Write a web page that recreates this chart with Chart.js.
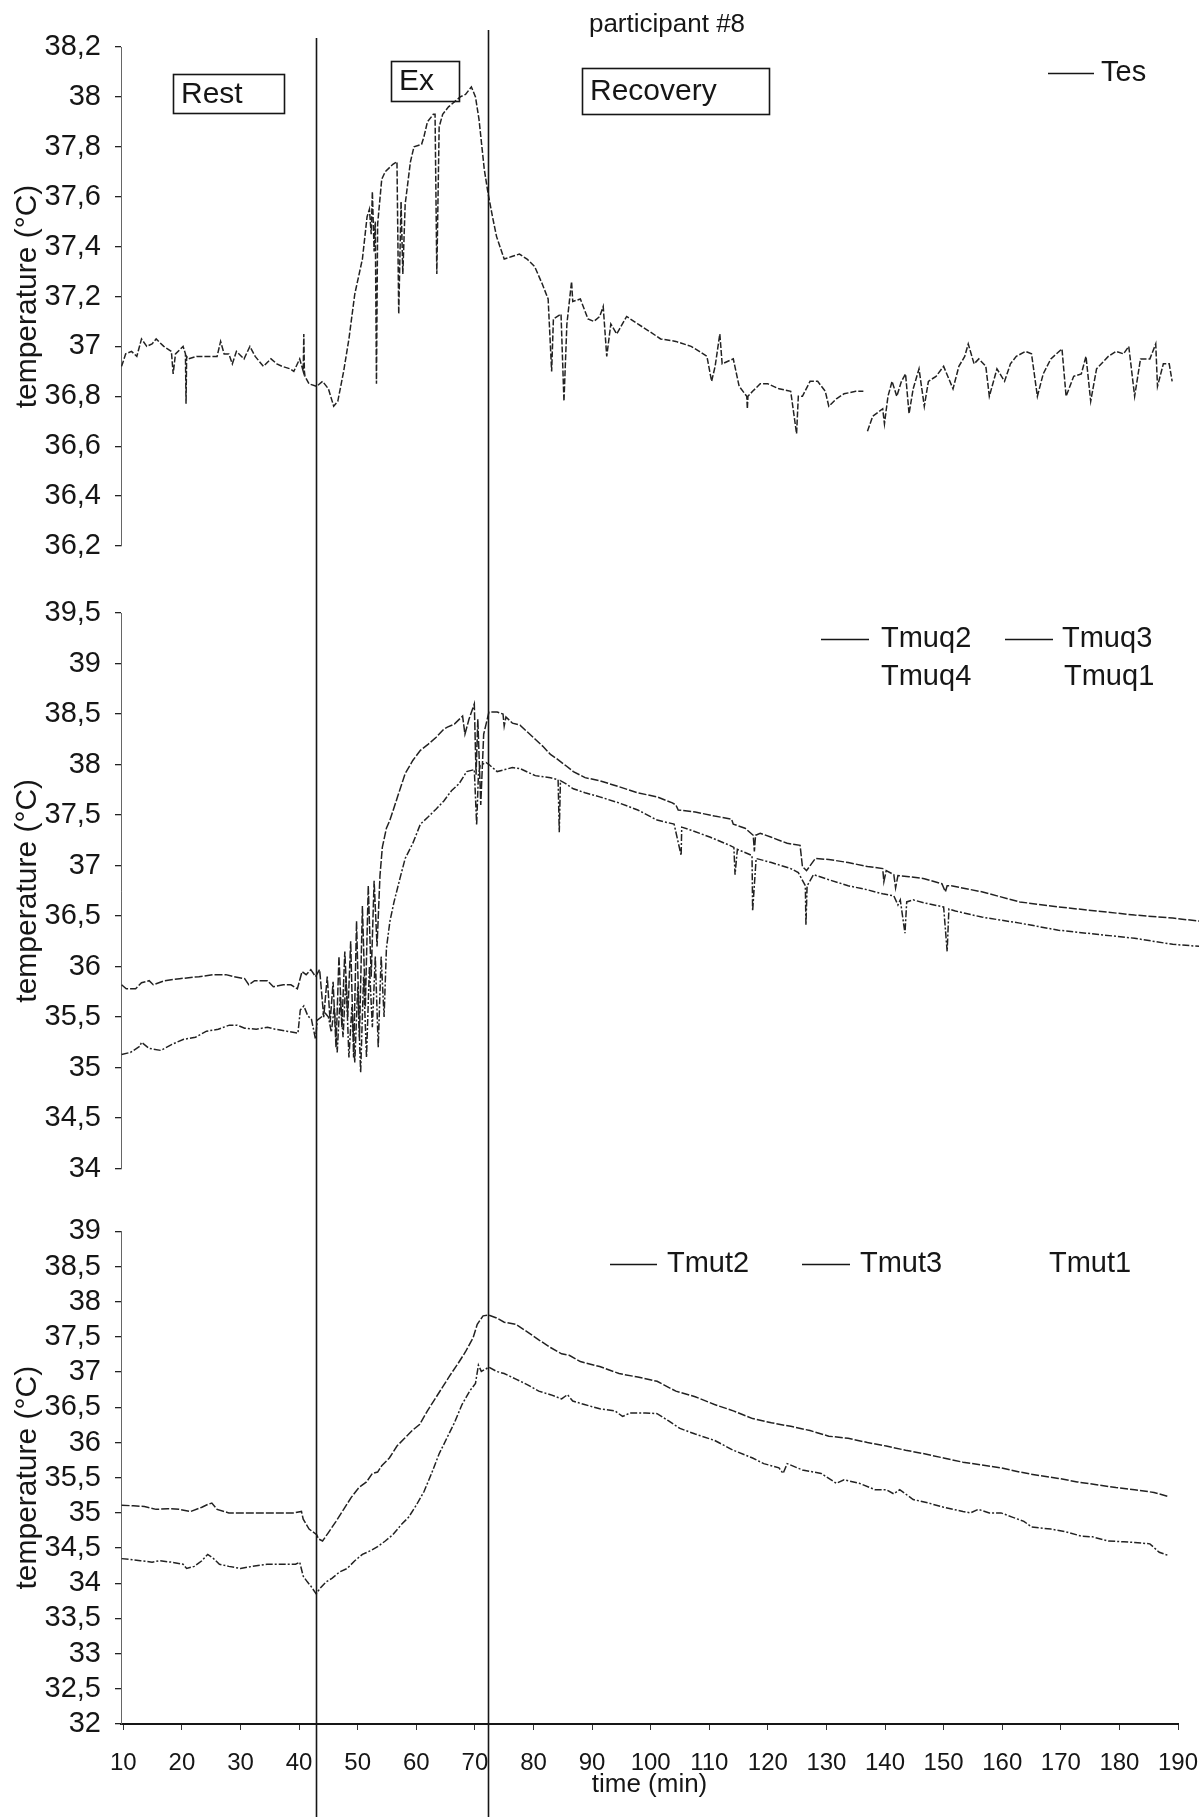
<!DOCTYPE html>
<html>
<head>
<meta charset="utf-8">
<script src="https://cdn.jsdelivr.net/npm/chart.js@4.4.1/dist/chart.umd.min.js"></script>
<style>
    html, body { margin: 0; padding: 0; background: #fff; }
    #wrap { position: relative; width: 1199px; height: 1817px; }
    .panel { position: absolute; left: 0; width: 1199px; }
</style>
</head>
<body>
<div id="wrap">
    <div class="panel" style="top:0;height:580px"><canvas id="tes"></canvas></div>
    <div class="panel" style="top:580px;height:620px"><canvas id="muq"></canvas></div>
    <div class="panel" style="top:1200px;height:617px"><canvas id="mut"></canvas></div>
</div>
<script>
const title = 'participant #8';
const phaseNames = ['Rest', 'Ex', 'Recovery'];
const phaseLines = [42.9, 72.2];   // minutes
const xTitle = 'time (min)';
const yTitle = 'temperature (°C)';
const tesName = 'Tes';
const muqNames = ['Tmuq2', 'Tmuq3', 'Tmuq4', 'Tmuq1'];
const mutNames = ['Tmut2', 'Tmut3', 'Tmut1'];

// oesophageal temperature
const tesTime = [9.7, 10.4, 11.4, 12.3, 13.1, 14.0, 14.9, 15.6, 16.9, 18.2, 18.5, 18.9, 20.2, 20.6, 20.7, 20.8, 21.1, 22.5, 24.1, 26.0,
    26.6, 27.2, 28.0, 28.6, 29.3, 30.6, 31.6, 32.5, 33.9, 35.2, 36.2, 37.1, 38.5, 39.1, 40.1, 40.7, 40.8, 40.9, 41.0, 41.7,
    43.0, 44.0, 45.0, 45.9, 46.6, 47.6, 48.5, 49.5, 50.8, 51.6, 52.0, 52.3, 52.5, 52.8, 53.0, 53.2, 53.4, 54.1, 54.7, 56.0,
    56.7, 57.0, 57.4, 57.7, 58.1, 59.0, 59.6, 60.9, 61.3, 61.9, 62.9, 63.2, 63.5, 63.9, 64.5, 65.5, 66.5, 67.5, 68.4, 69.4,
    70.1, 70.7, 71.6, 72.2, 73.0, 73.7, 75.0, 76.3, 77.6, 78.9, 80.2, 81.5, 82.5, 83.1, 83.4, 84.7, 85.2, 85.7, 86.5, 86.7,
    88.0, 89.3, 90.3, 91.3, 91.9, 92.5, 93.2, 94.2, 95.9, 97.8, 99.8, 101.7, 104.3, 106.9, 108.3, 109.6, 110.4, 111.0, 111.8, 112.2,
    114.1, 115.1, 116.4, 116.5, 116.6, 117.4, 118.7, 120.0, 121.9, 123.9, 124.9, 125.2, 125.9, 127.2, 128.5, 129.8, 130.4, 131.7, 133.0, 135.0,
    136.3, 136.6, 137.0, 137.9, 139.6, 139.9, 140.5, 141.2, 142.0, 142.8, 143.5, 144.1, 144.8, 145.8, 146.7, 147.4, 148.7, 150.0, 151.6, 152.6,
    153.6, 154.2, 155.2, 156.0, 157.2, 157.8, 159.1, 160.4, 161.4, 162.4, 164.0, 165.0, 166.0, 167.0, 168.3, 170.2, 170.9, 172.2, 173.5, 174.3,
    175.1, 176.1, 178.1, 179.4, 180.7, 181.6, 182.6, 183.6, 185.2, 186.2, 186.5, 187.5, 188.5, 189.0];
const tesTemp = [36.92, 36.97, 36.98, 36.96, 37.03, 37.0, 37.01, 37.03, 37.0, 36.98, 36.89, 36.97, 37.0, 36.97, 36.77, 36.96, 36.95, 36.96, 36.96, 36.96,
    37.02, 36.97, 36.97, 36.93, 36.98, 36.95, 37.0, 36.96, 36.92, 36.95, 36.93, 36.92, 36.91, 36.9, 36.95, 36.9, 37.05, 36.9, 36.88, 36.85,
    36.84, 36.86, 36.83, 36.76, 36.78, 36.9, 37.03, 37.21, 37.35, 37.52, 37.55, 37.45, 37.62, 37.38, 37.5, 36.85, 37.49, 37.67, 37.7, 37.73,
    37.74, 37.13, 37.58, 37.29, 37.57, 37.74, 37.8, 37.81, 37.84, 37.9, 37.93, 37.93, 37.29, 37.88, 37.93, 37.96, 37.98, 38.0, 38.01, 38.04,
    38.0, 37.91, 37.71, 37.62, 37.52, 37.44, 37.35, 37.36, 37.37, 37.35, 37.32, 37.25, 37.19, 36.9, 37.11, 37.13, 36.78, 37.09, 37.26, 37.18,
    37.19, 37.11, 37.1, 37.12, 37.16, 36.96, 37.09, 37.05, 37.12, 37.09, 37.06, 37.03, 37.02, 37.0, 36.98, 36.96, 36.86, 36.92, 37.05, 36.93,
    36.95, 36.84, 36.8, 36.75, 36.8, 36.82, 36.85, 36.85, 36.83, 36.82, 36.65, 36.8, 36.8, 36.86, 36.86, 36.82, 36.76, 36.79, 36.81, 36.82,
    36.82, null, 36.66, 36.72, 36.75, 36.69, 36.8, 36.86, 36.8, 36.86, 36.89, 36.73, 36.83, 36.91, 36.76, 36.86, 36.88, 36.92, 36.83, 36.92,
    36.96, 37.01, 36.93, 36.95, 36.92, 36.8, 36.91, 36.86, 36.93, 36.96, 36.98, 36.97, 36.8, 36.89, 36.95, 36.99, 36.8, 36.88, 36.89, 36.96,
    36.78, 36.91, 36.96, 36.98, 36.97, 37.0, 36.8, 36.95, 36.95, 37.01, 36.84, 36.93, 36.93, 36.86];

// quadriceps muscle temperature
const muq2Time = [9.7, 10.5, 12.1, 13.1, 14.4, 15.1, 17.0, 19.6, 22.9, 25.5, 27.5, 28.8, 30.7, 31.4, 32.4, 34.6, 35.6, 37.3, 38.6, 39.7,
    40.5, 41.2, 42.0, 42.8, 43.5, 44.2, 44.8, 45.3, 45.8, 46.3, 46.8, 47.3, 47.8, 48.3, 48.8, 49.3, 49.8, 50.3, 50.8, 51.3,
    51.8, 52.3, 52.8, 53.3, 53.8, 54.2, 54.9, 55.5, 56.8, 58.1, 59.4, 60.7, 62.0, 63.4, 64.7, 65.3, 66.5, 67.9, 68.3, 69.0,
    69.9, 70.2, 70.5, 71.0, 71.5, 72.4, 73.8, 74.8, 75.0, 75.3, 76.4, 77.7, 80.3, 81.6, 82.9, 83.9, 85.5, 86.8, 88.8, 91.3,
    94.6, 97.8, 101.1, 103.7, 104.3, 104.7, 107.6, 110.9, 113.8, 114.1, 116.1, 117.5, 117.7, 117.9, 118.7, 120.6, 123.3, 125.5, 125.9, 126.6,
    128.1, 130.4, 133.7, 137.0, 139.6, 139.8, 140.2, 141.5, 141.8, 142.2, 144.1, 146.7, 149.7, 150.3, 150.6, 151.3, 156.5, 163.0, 169.6, 176.1,
    182.6, 189.1, 193.6];
const muq2Temp = [35.82, 35.78, 35.78, 35.84, 35.86, 35.82, 35.86, 35.88, 35.9, 35.92, 35.92, 35.9, 35.88, 35.82, 35.86, 35.86, 35.8, 35.82, 35.82, 35.78,
    35.95, 35.92, 35.97, 35.9, 35.97, 35.5, 35.9, 35.45, 35.85, 35.2, 36.1, 35.4, 36.15, 35.5, 36.25, 35.1, 36.45, 35.3, 36.6, 35.6,
    36.8, 35.9, 36.85, 36.2, 36.9, 37.18, 37.37, 37.45, 37.68, 37.91, 38.04, 38.14, 38.2, 38.27, 38.35, 38.37, 38.4, 38.48, 38.3, 38.45,
    38.6, 37.9, 38.45, 37.6, 38.3, 38.52, 38.52, 38.5, 38.38, 38.47, 38.41, 38.39, 38.25, 38.18, 38.1, 38.06, 37.99, 37.93, 37.87, 37.84,
    37.78, 37.72, 37.68, 37.62, 37.6, 37.55, 37.53, 37.49, 37.46, 37.41, 37.37, 37.3, 37.14, 37.3, 37.32, 37.28, 37.22, 37.2, 36.99, 36.95,
    37.07, 37.06, 37.03, 36.99, 36.97, 36.84, 36.95, 36.91, 36.78, 36.9, 36.89, 36.87, 36.82, 36.74, 36.8, 36.8, 36.74, 36.64, 36.59, 36.55,
    36.51, 36.48, 36.45];
const muq3Time = [9.7, 11.2, 12.8, 13.1, 14.4, 16.4, 18.3, 20.3, 22.3, 24.2, 26.2, 28.1, 29.4, 30.7, 32.7, 34.6, 35.9, 37.9, 39.8, 40.2,
    40.8, 41.5, 42.1, 42.8, 43.1, 43.8, 44.3, 45.0, 45.5, 46.0, 46.5, 47.0, 47.5, 48.0, 48.5, 49.0, 49.5, 50.0, 50.5, 51.0,
    51.5, 52.0, 52.5, 53.0, 53.5, 54.0, 54.5, 54.9, 55.5, 56.2, 57.2, 58.1, 59.4, 60.7, 62.0, 63.4, 64.7, 66.0, 67.3, 68.6,
    69.9, 70.3, 70.6, 70.9, 71.9, 72.4, 73.8, 75.1, 76.4, 77.7, 80.3, 82.9, 84.2, 84.4, 84.6, 85.5, 86.8, 88.8, 91.3, 94.6,
    97.8, 101.1, 104.0, 105.2, 105.3, 106.9, 110.2, 113.5, 114.2, 114.4, 114.8, 117.3, 117.4, 118.0, 120.6, 123.9, 125.2, 126.4, 126.5, 126.7,
    127.8, 130.4, 133.7, 137.0, 139.6, 141.5, 142.2, 142.6, 143.4, 143.7, 144.8, 146.7, 150.0, 150.6, 150.9, 152.0, 156.5, 163.0, 169.6, 176.1,
    182.6, 189.1, 193.6];
const muq3Temp = [35.13, 35.15, 35.21, 35.25, 35.19, 35.17, 35.23, 35.28, 35.3, 35.36, 35.38, 35.42, 35.42, 35.39, 35.38, 35.4, 35.38, 35.36, 35.34, 35.57,
    35.61, 35.51, 35.48, 35.28, 35.47, 35.5, 35.55, 35.5, 35.35, 35.6, 35.15, 35.7, 35.3, 35.9, 35.1, 35.6, 35.05, 35.8, 34.95, 35.9,
    35.1, 36.0, 35.4, 36.1, 35.2, 36.1, 35.5, 36.18, 36.45, 36.64, 36.87, 37.07, 37.22, 37.41, 37.48, 37.56, 37.64, 37.74, 37.81, 37.93,
    37.95, 37.4, 37.9, 37.99, 38.02, 38.0, 37.93, 37.95, 37.97, 37.96, 37.89, 37.87, 37.85, 37.33, 37.84, 37.81, 37.76, 37.72, 37.68, 37.62,
    37.55, 37.45, 37.41, 37.1, 37.38, 37.35, 37.28, 37.2, 37.18, 36.91, 37.16, 37.1, 36.55, 37.07, 37.03, 36.97, 36.93, 36.8, 36.41, 36.8,
    36.91, 36.86, 36.8, 36.76, 36.72, 36.7, 36.61, 36.66, 36.33, 36.64, 36.66, 36.63, 36.59, 36.15, 36.57, 36.55, 36.49, 36.43, 36.36, 36.32,
    36.28, 36.22, 36.2];

// thigh muscle temperature
const mut2Time = [9.7, 11.7, 13.6, 15.6, 17.6, 19.5, 21.5, 23.4, 24.4, 25.1, 26.0, 28.0, 31.3, 34.5, 37.1, 39.1, 40.4, 40.7, 41.7, 43.0,
    43.3, 44.0, 45.0, 46.3, 47.6, 48.9, 50.2, 51.5, 52.5, 53.4, 54.1, 55.4, 56.7, 58.0, 59.3, 60.6, 61.9, 63.2, 64.5, 65.8,
    67.1, 68.4, 69.7, 70.4, 71.4, 72.4, 73.7, 75.0, 77.0, 79.0, 80.9, 82.9, 84.8, 86.1, 88.0, 91.3, 94.6, 97.8, 101.1, 104.3,
    107.6, 110.9, 114.1, 117.4, 120.6, 123.9, 127.2, 130.4, 133.7, 137.0, 140.2, 143.5, 146.7, 150.0, 153.3, 156.5, 159.8, 163.0, 166.3, 169.6,
    172.8, 176.1, 179.4, 182.6, 185.9, 188.5];
const mut2Temp = [35.11, 35.1, 35.09, 35.05, 35.06, 35.05, 35.02, 35.08, 35.12, 35.14, 35.05, 35.0, 35.0, 35.0, 35.0, 35.0, 35.02, 34.91, 34.77, 34.69,
    34.63, 34.6, 34.72, 34.88, 35.05, 35.22, 35.36, 35.44, 35.56, 35.58, 35.67, 35.78, 35.95, 36.06, 36.17, 36.26, 36.45, 36.62, 36.79, 36.96,
    37.12, 37.29, 37.49, 37.68, 37.8, 37.81, 37.77, 37.71, 37.68, 37.57, 37.46, 37.35, 37.26, 37.24, 37.15, 37.08, 36.98, 36.93, 36.87, 36.73,
    36.65, 36.54, 36.45, 36.34, 36.28, 36.23, 36.17, 36.09, 36.06, 36.0, 35.95, 35.89, 35.84, 35.78, 35.72, 35.68, 35.64, 35.58, 35.53, 35.49,
    35.44, 35.4, 35.36, 35.33, 35.29, 35.23];
const mut3Time = [9.7, 11.0, 12.9, 14.9, 16.2, 18.2, 20.2, 20.8, 22.1, 23.4, 24.4, 25.4, 26.4, 28.0, 30.0, 32.0, 34.5, 37.1, 39.4, 40.1,
    40.7, 41.4, 42.0, 42.9, 43.6, 44.6, 45.6, 46.9, 48.2, 49.5, 50.8, 52.1, 53.4, 54.7, 56.0, 57.4, 58.7, 60.0, 61.3, 62.6,
    63.9, 65.2, 66.5, 67.8, 69.1, 70.1, 70.6, 71.1, 72.4, 73.7, 75.0, 77.0, 79.0, 80.9, 82.9, 84.8, 85.8, 86.7, 88.7, 91.3,
    93.9, 95.2, 96.5, 99.1, 101.1, 103.0, 105.0, 107.6, 110.9, 114.1, 117.4, 119.3, 121.9, 122.6, 123.3, 125.9, 129.1, 131.7, 133.0, 135.6,
    138.3, 140.2, 141.5, 142.5, 144.8, 147.4, 150.0, 153.3, 154.6, 155.9, 157.8, 159.8, 161.7, 163.7, 165.0, 168.3, 170.9, 173.5, 175.4, 178.1,
    180.7, 182.6, 185.2, 186.8, 188.5];
const mut3Temp = [34.35, 34.34, 34.32, 34.3, 34.32, 34.3, 34.27, 34.21, 34.24, 34.32, 34.41, 34.35, 34.27, 34.24, 34.21, 34.24, 34.27, 34.27, 34.27, 34.3,
    34.1, 34.02, 33.96, 33.85, 33.93, 34.02, 34.07, 34.16, 34.21, 34.32, 34.41, 34.46, 34.52, 34.6, 34.69, 34.83, 34.94, 35.11, 35.3, 35.56,
    35.84, 36.06, 36.28, 36.54, 36.73, 36.84, 37.1, 37.01, 37.07, 37.01, 36.98, 36.9, 36.82, 36.73, 36.68, 36.62, 36.68, 36.59, 36.54, 36.48,
    36.45, 36.37, 36.42, 36.42, 36.41, 36.31, 36.2, 36.12, 36.03, 35.89, 35.78, 35.7, 35.64, 35.56, 35.7, 35.61, 35.56, 35.42, 35.47, 35.42,
    35.33, 35.33, 35.27, 35.33, 35.19, 35.14, 35.08, 35.02, 35.0, 35.05, 35.0, 35.0, 34.94, 34.88, 34.8, 34.77, 34.73, 34.67, 34.66, 34.6,
    34.59, 34.58, 34.56, 34.44, 34.39];

const FONT = "'Liberation Sans', Arial, sans-serif";
const INK = '#161616';

const pts = (xs, ys) => xs.map((x, i) => ({ x, y: ys[i] }));
const comma = v => String(Math.round(v * 10) / 10).replace('.', ',');

const series = (label, xs, ys, dash) => ({
    label,
    data: pts(xs, ys),
    borderColor: '#222',
    borderWidth: 1.5,
    borderDash: dash,
    pointRadius: 0,
    tension: 0,
    spanGaps: false
});

// draws the phase lines, phase boxes, legends and free texts
const decor = {
    id: 'decor',
    afterDraw(chart, args, opts) {
        const { ctx } = chart;
        const xs = chart.scales.x;
        ctx.save();
        ctx.strokeStyle = INK;
        ctx.fillStyle = INK;
        ctx.lineWidth = 1.6;
        phaseLines.forEach((t, i) => {
            const px = Math.round(xs.getPixelForValue(t)) + 0.5;
            ctx.beginPath();
            ctx.moveTo(px, opts.lineTops[i]);
            ctx.lineTo(px, chart.height);
            ctx.stroke();
        });
        ctx.textBaseline = 'middle';
        (opts.boxes || []).forEach(b => {
            ctx.lineWidth = 1.6;
            ctx.strokeRect(b.x + 0.5, b.y + 0.5, b.w, b.h);
            ctx.font = `30px ${FONT}`;
            ctx.textAlign = 'left';
            ctx.fillText(b.text, b.x + 8, b.y + b.h / 2 + 1);
        });
        (opts.legend || []).forEach(l => {
            if (l.line) {
                ctx.lineWidth = 1.5;
                ctx.beginPath();
                ctx.moveTo(l.line[0], l.y + 0.5);
                ctx.lineTo(l.line[1], l.y + 0.5);
                ctx.stroke();
            }
            ctx.font = `29px ${FONT}`;
            ctx.textAlign = 'left';
            ctx.fillText(l.text, l.x, l.y);
        });
        (opts.texts || []).forEach(t => {
            ctx.font = `${t.size}px ${FONT}`;
            ctx.textAlign = 'center';
            ctx.fillText(t.text, t.x, t.y);
        });
        ctx.restore();
    }
};

const xScale = show => ({
    type: 'linear',
    min: 9.6,
    max: 190,
    display: show,
    // fixed axis height, and no extra room kept for the last label
    afterFit: s => {
        if (!show) return;
        s.height = 93;
        s.paddingLeft = 0;
        s.paddingRight = 18;
    },
    border: { display: true, color: INK, width: 2 },
    grid: { display: true, drawOnChartArea: false, drawTicks: true, tickLength: 6, color: '#333' },
    ticks: {
        stepSize: 10,
        includeBounds: false,
        padding: 19,
        color: INK,
        font: { family: FONT, size: 24 },
        maxRotation: 0
    },
    title: {
        display: true,
        text: xTitle,
        color: INK,
        font: { family: FONT, size: 26 },
        padding: { top: 0, bottom: 17 }
    }
});

const yScale = (min, max, step) => ({
    type: 'linear',
    min,
    max,
    afterFit: s => { s.width = 121; },
    border: { display: true, color: '#666', width: 1, dash: [3, 3] },
    grid: { display: true, drawOnChartArea: false, drawTicks: true, tickLength: 6, color: '#222', lineWidth: 1.3 },
    ticks: {
        stepSize: step,
        autoSkip: false,
        padding: 14,
        color: INK,
        font: { family: FONT, size: 29 },
        callback: v => comma(v)
    },
    title: {
        display: true,
        text: yTitle,
        color: INK,
        font: { family: FONT, size: 30 },
        padding: { top: 10, bottom: 0 }
    }
});

const makeChart = (id, datasets, y, showX, padding, decorOpts) => new Chart(
    document.getElementById(id),
    {
        type: 'line',
        data: { datasets },
        options: {
            responsive: true,
            maintainAspectRatio: false,
            animation: false,
            devicePixelRatio: 1,
            layout: { padding },
            scales: { x: xScale(showX), y },
            plugins: {
                legend: { display: false },
                tooltip: { enabled: false },
                decor: decorOpts
            }
        },
        plugins: [decor]
    }
);

makeChart('tes',
    [series(tesName, tesTime, tesTemp, [6, 2])],
    yScale(36.2, 38.2, 0.2), false,
    { top: 47, bottom: 34, left: 0, right: 21 },
    {
        lineTops: [38, 30],
        boxes: [
            { x: 173, y: 74, w: 111, h: 39, text: phaseNames[0] },
            { x: 391, y: 61, w: 68, h: 40, text: phaseNames[1] },
            { x: 582, y: 68, w: 187, h: 46, text: phaseNames[2] }
        ],
        legend: [{ line: [1048, 1094], x: 1101, y: 73, text: tesName }],
        texts: [{ text: title, x: 667, y: 25, size: 26 }]
    }
);

const muqSets = [
    series(muqNames[0], muq2Time, muq2Temp, [8, 2]),
    series(muqNames[1], muq3Time, muq3Temp, [7, 2, 2, 2])
];
muqSets.forEach(d => { d.clip = false; });

makeChart('muq',
    muqSets,
    yScale(34, 39.5, 0.5), false,
    { top: 33, bottom: 19, left: 0, right: 21 },
    {
        lineTops: [0, 0],
        legend: [
            { line: [821, 869], x: 881, y: 59, text: muqNames[0] },
            { line: [1005, 1053], x: 1062, y: 59, text: muqNames[1] },
            { x: 881, y: 97, text: muqNames[2] },
            { x: 1064, y: 97, text: muqNames[3] }
        ]
    }
);

makeChart('mut',
    [
        series(mutNames[0], mut2Time, mut2Temp, [8, 2]),
        series(mutNames[1], mut3Time, mut3Temp, [7, 2, 2, 2])
    ],
    yScale(32, 39, 0.5), true,
    { top: 24, bottom: 0, left: 0, right: 21 },
    {
        lineTops: [0, 0],
        legend: [
            { line: [610, 657], x: 667, y: 64, text: mutNames[0] },
            { line: [802, 850], x: 860, y: 64, text: mutNames[1] },
            { x: 1049, y: 64, text: mutNames[2] }
        ]
    }
);
</script>
</body>
</html>
